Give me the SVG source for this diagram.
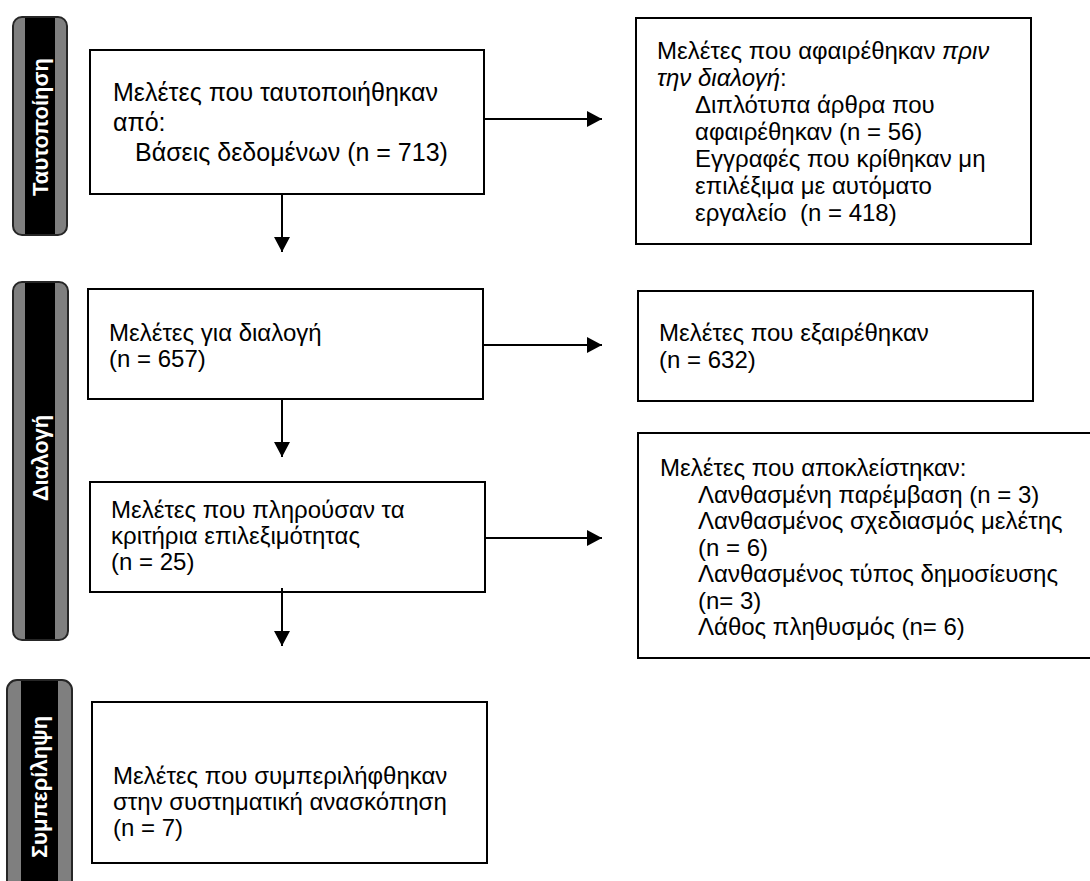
<svg xmlns="http://www.w3.org/2000/svg" width="1090" height="881" viewBox="0 0 1090 881">
<style>
  .box{fill:#fff;stroke:#000;stroke-width:2}
  .t{font-family:"Liberation Sans",Arial,sans-serif;font-size:24px;fill:#000;white-space:pre}
  .ta{font-size:25px}
  .i{font-style:italic}
  .bar{fill:#7f7f7f;stroke:#262626;stroke-width:2}
  .band{fill:#000}
  .bt{font-family:"Liberation Sans",Arial,sans-serif;font-size:22px;font-weight:bold;fill:#fff;text-anchor:middle;dominant-baseline:central}
  .c{stroke:#000;stroke-width:2;fill:none;marker-end:url(#ah)}
</style>
<defs>
  <marker id="ah" markerWidth="8" markerHeight="8" refX="7.5" refY="4" orient="auto" markerUnits="strokeWidth">
    <path d="M0,0 L7.5,4 L0,8 Z" fill="#000"/>
  </marker>
</defs>
<rect width="1090" height="881" fill="#fff"/>

<g id="bar-identification">
  <rect class="bar" x="13" y="17" width="54" height="218" rx="9"/>
  <rect class="band" x="25" y="18" width="30" height="216"/>
  <text class="bt" transform="translate(40,127) rotate(-90)">Ταυτοποίηση</text>
</g>
<g id="bar-screening">
  <rect class="bar" x="13" y="282" width="55" height="358" rx="9"/>
  <rect class="band" x="25" y="283" width="30" height="356"/>
  <text class="bt" transform="translate(40,458) rotate(-90)">Διαλογή</text>
</g>
<g id="bar-included">
  <rect class="bar" x="7" y="680" width="65" height="220" rx="10"/>
  <rect class="band" x="21" y="681" width="37" height="218"/>
  <text class="bt" transform="translate(39.5,787) rotate(-90)">Συμπερίληψη</text>
</g>

<g id="node-identified">
  <rect class="box" x="90" y="50" width="394" height="144"/>
  <text class="t ta" x="113" y="101">Μελέτες που ταυτοποιήθηκαν</text>
  <text class="t ta" x="113" y="131">από:</text>
  <text class="t ta" x="135" y="161">Βάσεις δεδομένων (n = 713)</text>
</g>
<g id="node-removed">
  <rect class="box" x="636" y="18" width="395" height="226"/>
  <text class="t" x="657" y="59">Μελέτες που αφαιρέθηκαν <tspan class="i">πριν</tspan></text>
  <text class="t" x="657" y="86"><tspan class="i">την διαλογή</tspan>:</text>
  <text class="t" x="695" y="113">Διπλότυπα άρθρα που</text>
  <text class="t" x="695" y="140">αφαιρέθηκαν (n = 56)</text>
  <text class="t" x="695" y="167">Εγγραφές που κρίθηκαν μη</text>
  <text class="t" x="695" y="194">επιλέξιμα με αυτόματο</text>
  <text class="t" x="695" y="221">εργαλείο  (n = 418)</text>
</g>
<g id="node-screened">
  <rect class="box" x="88" y="289" width="395" height="110"/>
  <text class="t" x="109" y="341">Μελέτες για διαλογή</text>
  <text class="t" x="109" y="367">(n = 657)</text>
</g>
<g id="node-excluded">
  <rect class="box" x="638" y="291" width="395" height="110"/>
  <text class="t" x="659" y="341">Μελέτες που εξαιρέθηκαν</text>
  <text class="t" x="659" y="368">(n = 632)</text>
</g>
<g id="node-eligible">
  <rect class="box" x="90" y="482" width="395" height="110"/>
  <text class="t" x="111" y="518">Μελέτες που πληρούσαν τα</text>
  <text class="t" x="111" y="544">κριτήρια επιλεξιμότητας</text>
  <text class="t" x="111" y="570">(n = 25)</text>
</g>
<g id="node-ineligible">
  <rect class="box" x="638" y="433" width="480" height="225"/>
  <text class="t" x="660" y="476">Μελέτες που αποκλείστηκαν:</text>
  <text class="t" x="698" y="502.5">Λανθασμένη παρέμβαση (n = 3)</text>
  <text class="t" x="698" y="529">Λανθασμένος σχεδιασμός μελέτης</text>
  <text class="t" x="698" y="555.5">(n = 6)</text>
  <text class="t" x="698" y="582">Λανθασμένος τύπος δημοσίευσης</text>
  <text class="t" x="698" y="608.5">(n= 3)</text>
  <text class="t" x="698" y="635">Λάθος πληθυσμός (n= 6)</text>
</g>
<g id="node-included">
  <rect class="box" x="92" y="702" width="395" height="161"/>
  <text class="t" x="113" y="784">Μελέτες που συμπεριλήφθηκαν</text>
  <text class="t" x="113" y="810">στην συστηματική ανασκόπηση</text>
  <text class="t" x="113" y="836">(n = 7)</text>
</g>

<g id="connectors">
  <line class="c" x1="484" y1="119" x2="602" y2="119"/>
  <line class="c" x1="282" y1="194" x2="282" y2="252"/>
  <line class="c" x1="483" y1="345" x2="602" y2="345"/>
  <line class="c" x1="282" y1="399" x2="282" y2="457"/>
  <line class="c" x1="485" y1="538" x2="602" y2="538"/>
  <line class="c" x1="282" y1="588" x2="282" y2="646"/>
</g>
</svg>
